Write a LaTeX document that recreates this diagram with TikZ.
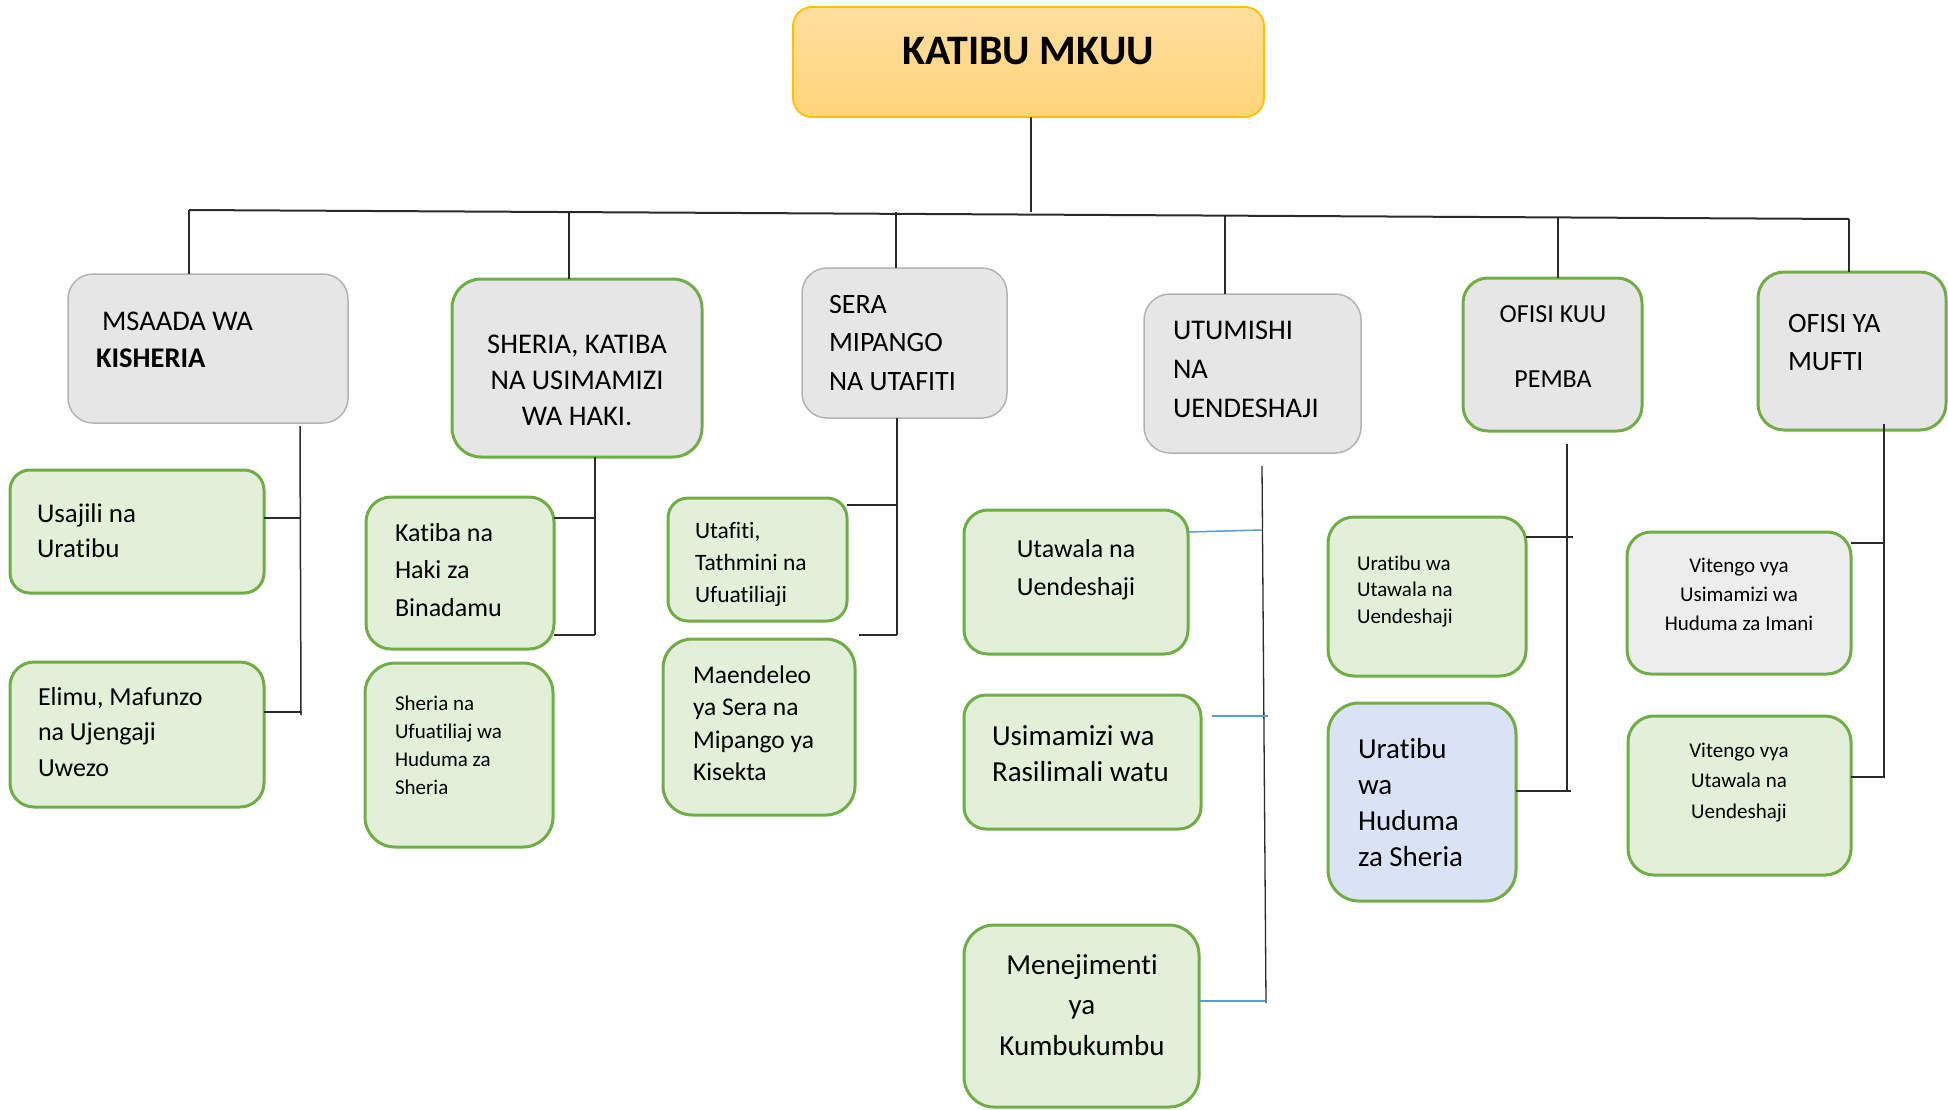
\documentclass[tikz,border=0pt]{standalone}
\usepackage{fontspec}
\setmainfont[Ligatures=NoCommon]{Carlito}
\definecolor{gborder}{HTML}{70AD47}
\definecolor{gfill}{HTML}{E2F0D9}
\definecolor{grayfill}{HTML}{E6E6E6}
\definecolor{grayline}{HTML}{B3B3B3}
\definecolor{lgray}{HTML}{EDEDED}
\definecolor{bfill}{HTML}{DAE3F3}
\definecolor{gold}{HTML}{FFC000}
\definecolor{otop}{HTML}{FFDF9F}
\definecolor{obot}{HTML}{FFD479}
\definecolor{conn}{HTML}{2B2B2B}
\definecolor{bconn}{HTML}{5B9BD5}
\tikzset{
  box/.style={rectangle, anchor=north west, inner sep=0pt, outer sep=0pt},
  topbox/.style={box, top color=otop, bottom color=obot, draw=gold, line width=1.8pt},
  greybox/.style={box, fill=grayfill, draw=grayline, line width=1.5pt},
  greygreen/.style={box, fill=grayfill, draw=gborder, line width=3pt},
  lightgreen/.style={box, fill=lgray, draw=gborder, line width=3pt},
  greenbox/.style={box, fill=gfill, draw=gborder, line width=3pt},
  bluebox/.style={box, fill=bfill, draw=gborder, line width=3pt},
  tx/.style={inner sep=0pt, outer sep=0pt, text=black},
  conline/.style={draw=conn, line width=1.5pt},
  barline/.style={draw=conn, line width=2pt},
  blueline/.style={draw=bconn, line width=1.5pt}
}
% box: style, name, x0, y0, width, height, radius
\newcommand\bx[7]{\node[#1, minimum width=#5pt, minimum height=#6pt, rounded corners=#7pt] (#2) at (#3,#4) {};}
% text: anchor, align, name, x, baseline, size, leading, text
\newcommand\txt[8]{\node[tx, anchor=#1, align=#2, font=\fontsize{#6}{#7}\selectfont] (#3) at (#4,#5-#6) {\rule{0pt}{#6pt}#8};}
\begin{document}
\begin{tikzpicture}[x=1pt, y=-1pt]
\useasboundingbox (0,0) rectangle (1948,1109);
% ---------- boxes ----------
\bx{topbox}{top}{793}{7}{471}{110}{19}
\bx{greybox}{msaada}{68}{274}{280}{149}{25}
\bx{greygreen}{sheria}{452}{279}{250}{178}{29}
\bx{greybox}{sera}{802}{268}{205}{150}{25}
\bx{greybox}{utumishi}{1144}{294}{217}{159}{26}
\bx{greygreen}{ofisikuu}{1463}{278}{179}{153}{25}
\bx{greygreen}{ofisiya}{1758}{272}{188}{158}{26}
\bx{greenbox}{usajili}{10}{470}{254}{123}{20}
\bx{greenbox}{elimu}{10}{662}{254}{145}{24}
\bx{greenbox}{katiba}{366}{497}{188}{152}{25}
\bx{greenbox}{sherian}{365}{663}{188}{184}{30}
\bx{greenbox}{utafiti}{668}{498}{179}{123}{20}
\bx{greenbox}{maendeleo}{663}{639}{192}{176}{29}
\bx{greenbox}{utawala}{964}{510}{224}{144}{24}
\bx{greenbox}{usimamizi}{964}{695}{237}{134}{22}
\bx{greenbox}{menejimenti}{964}{925}{235}{182}{30}
\bx{greenbox}{uratibuA}{1328}{517}{198}{159}{26}
\bx{bluebox}{uratibuB}{1328}{703}{188}{198}{31}
\bx{lightgreen}{vitengoA}{1627}{532}{224}{142}{24}
\bx{greenbox}{vitengoB}{1628}{716}{223}{159}{26}
% ---------- texts ----------
\txt{north}{center}{topT}{1028}{64}{42}{50}{\bfseries KATIBU MKUU}
\txt{north west}{left}{msaadaT}{96}{330}{28.5}{37}{\hspace*{6pt}MSAADA WA\\\textbf{KISHERIA}}
\txt{north}{center}{sheriaT}{577}{353}{28.5}{36}{SHERIA, KATIBA\\NA USIMAMIZI\\WA HAKI.}
\txt{north west}{left}{seraT}{829}{313}{28}{38.5}{SERA\\MIPANGO\\NA UTAFITI}
\txt{north west}{left}{utumishiT}{1173}{339}{28.5}{39}{UTUMISHI\\NA\\UENDESHAJI}
\txt{north}{center}{ofisikuuT}{1553}{322}{26}{32.5}{OFISI KUU\\[32.5pt]PEMBA}
\txt{north west}{left}{ofisiyaT}{1788}{332}{28}{38}{OFISI YA\\MUFTI}
\txt{north west}{left}{usajiliT}{37}{522}{27}{35}{Usajili na\\Uratibu}
\txt{north west}{left}{elimuT}{38}{705}{26}{35.5}{Elimu, Mafunzo\\na Ujengaji\\Uwezo}
\txt{north west}{left}{katibaT}{395}{541}{26}{37.5}{Katiba na\\Haki za\\Binadamu}
\txt{north west}{left}{sherianT}{395}{710}{21}{28}{Sheria na\\Ufuatiliaj wa\\Huduma za\\Sheria}
\txt{north west}{left}{utafitiT}{695}{538}{23.5}{32}{Utafiti,\\Tathmini na\\Ufuatiliaji}
\txt{north west}{left}{maendeleoT}{693}{683}{25.5}{32.5}{Maendeleo\\ya Sera na\\Mipango ya\\Kisekta}
\txt{north}{center}{utawalaT}{1076}{557}{26}{38}{Utawala na\\Uendeshaji}
\txt{north west}{left}{usimamiziT}{992}{745}{29}{36}{Usimamizi wa\\Rasilimali watu}
\txt{north}{center}{menejimentiT}{1082}{974}{29}{40.5}{Menejimenti\\ya\\Kumbukumbu}
\txt{north west}{left}{uratibuAT}{1357}{570}{21}{26.5}{Uratibu wa\\Utawala na\\Uendeshaji}
\txt{north west}{left}{uratibuBT}{1358}{758}{29}{36}{Uratibu\\wa\\Huduma\\za Sheria}
\txt{north}{center}{vitengoAT}{1739}{572}{21}{29}{Vitengo vya\\Usimamizi wa\\Huduma za Imani}
\txt{north}{center}{vitengoBT}{1739}{757}{21}{30.5}{Vitengo vya\\Utawala na\\Uendeshaji}
% ---------- main connectors ----------
\coordinate (barL) at (189,210);
\coordinate (barR) at (1849,219);
\coordinate (trunkB) at (1031,212);
\coordinate (d2) at (569,212);
\coordinate (d3) at (896,212);
\coordinate (d4) at (1225,216);
\coordinate (d5) at (1558,217);
\path[barline] (barL) -- (barR);
\path[conline] (top.south -| trunkB) -- (trunkB);
\path[conline] (barL) -- (barL |- msaada.north);
\path[conline] (d2) -- (d2 |- sheria.north);
\path[conline] (d3) -- (d3 |- sera.north);
\path[conline] (d4) -- (d4 |- utumishi.north);
\path[conline] (d5) -- (d5 |- ofisikuu.north);
\path[conline] (barR) -- (barR |- ofisiya.north);
% ---------- MSAADA branch ----------
\coordinate (mA) at (300,426);
\coordinate (mB) at (301,715);
\coordinate (m1) at (300,518);
\coordinate (m2) at (302,712);
\path[conline] (mA) -- (mB);
\path[conline] (m1 -| usajili.east) -- (m1);
\path[conline] (m2 -| elimu.east) -- (m2);
% ---------- SHERIA branch ----------
\coordinate (sB) at (595,635);
\coordinate (s1) at (595,518);
\path[conline] (sheria.south -| sB) -- (sB);
\path[conline] (s1 -| katiba.east) -- (s1);
\path[conline] (sB -| katiba.east) -- (sB);
% ---------- SERA branch ----------
\coordinate (rB) at (897,635);
\coordinate (r1) at (897,505);
\coordinate (r2) at (859,635);
\path[conline] (sera.south -| rB) -- (rB);
\path[conline] (r1 -| utafiti.east) -- (r1);
\path[conline] (r2) -- (rB);
% ---------- UTUMISHI branch ----------
\coordinate (uA) at (1262,466);
\coordinate (uB) at (1266,1003);
\coordinate (u1a) at (1188,532);
\coordinate (u1) at (1262,530);
\coordinate (u2a) at (1212,716);
\coordinate (u2) at (1268,716);
\coordinate (u3) at (1265,1001);
\path[conline, line width=1.3pt] (uA) -- (uB);
\path[blueline] (utawala.east |- u1a) -- (u1);
\path[blueline] (u2a) -- (u2);
\path[blueline] (u3 -| menejimenti.east) -- (u3);
% ---------- OFISI KUU branch ----------
\coordinate (kA) at (1567,444);
\coordinate (kB) at (1567,791);
\coordinate (k1) at (1573,537);
\coordinate (k2) at (1571,791);
\path[conline] (kA) -- (kB);
\path[barline] (k1 -| uratibuA.east) -- (k1);
\path[barline] (k2 -| uratibuB.east) -- (k2);
% ---------- OFISI YA branch ----------
\coordinate (yA) at (1884,424);
\coordinate (yB) at (1884,778);
\coordinate (y1) at (1884,543);
\coordinate (y2) at (1884,777);
\path[conline] (yA) -- (yB);
\path[conline] (y1 -| vitengoA.east) -- (y1);
\path[barline] (y2 -| vitengoB.east) -- (y2);
\end{tikzpicture}
\end{document}
